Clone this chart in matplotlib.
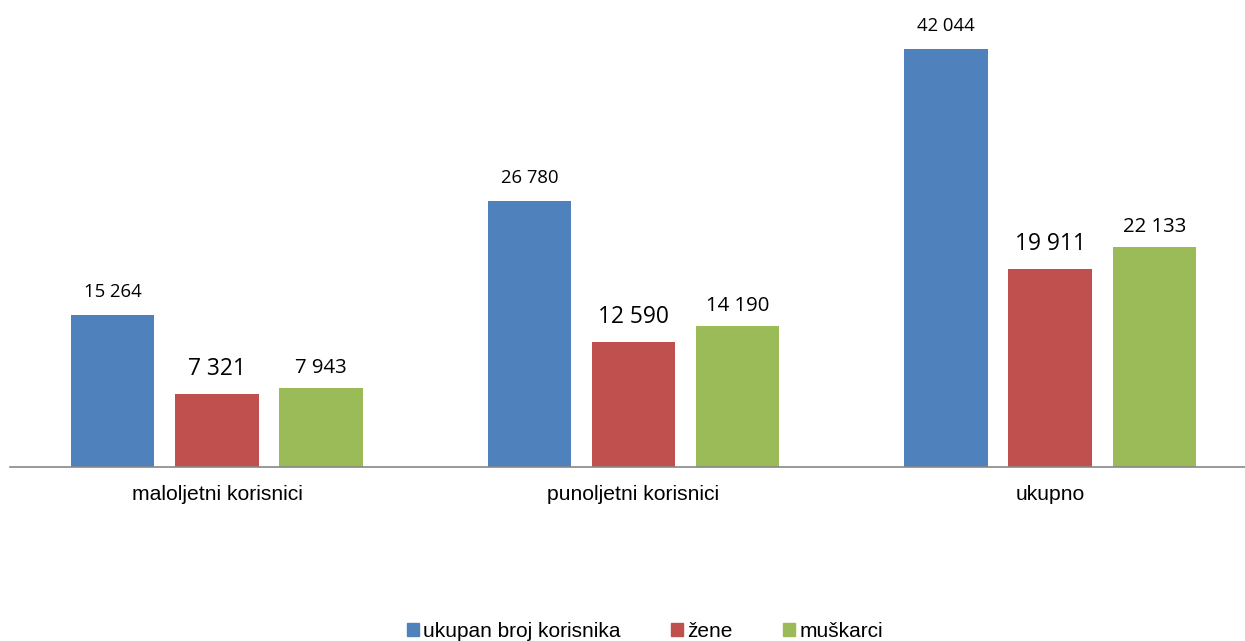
import numpy as np
import matplotlib.pyplot as plt
from matplotlib.patches import Patch

categories = ["maloljetni korisnici", "punoljetni korisnici", "ukupno"]
series_names = ["ukupan broj korisnika", "žene", "muškarci"]
ukupno = [15264, 26780, 42044]
zene = [7321, 12590, 19911]
muskarci = [7943, 14190, 22133]

colors = ["#4F81BD", "#C0504D", "#9BBB59"]
label_sizes = [13.3, 16.4, 14.7]
label_gaps = [13, 13.5, 11]

fig = plt.figure(figsize=(12.45, 6.41), dpi=100)
ax = fig.add_axes([0.008, 0.2715, 0.992, 0.6975])

x = np.arange(len(categories))
width = 0.2
offsets = [-0.25, 0, 0.25]
for vals, off, col, fs, gap in zip([ukupno, zene, muskarci], offsets, colors, label_sizes, label_gaps):
    bars = ax.bar(x + off, vals, width=width, color=col)
    for b, v in zip(bars, vals):
        ax.annotate(f"{v:,}".replace(",", " "), (b.get_x() + b.get_width() / 2, v),
                    xytext=(0, gap), textcoords="offset points", ha="center", va="baseline",
                    fontsize=fs, family=["Open Sans", "DejaVu Sans"])

ax.set_ylim(0, 45000)
ax.set_xlim(-0.497, 2.468)
ax.set_yticks([])
ax.set_xticks(x)
ax.set_xticklabels(categories, fontsize=15.2, family="Liberation Sans")
ax.tick_params(axis="x", length=0, pad=13)
for s in ["top", "right", "left"]:
    ax.spines[s].set_visible(False)
ax.spines["bottom"].set_color("#888888")
ax.spines["bottom"].set_linewidth(1.2)

handles = [Patch(color=c) for c in colors]
fig.legend(handles, series_names, loc="center", bbox_to_anchor=(0.518, 0.015), ncol=3,
           frameon=False, prop={"family": "Liberation Sans", "size": 15},
           handlelength=0.6, handleheight=0.6, handletextpad=0.2, columnspacing=2.4)

fig.savefig("out.png", dpi=100)
